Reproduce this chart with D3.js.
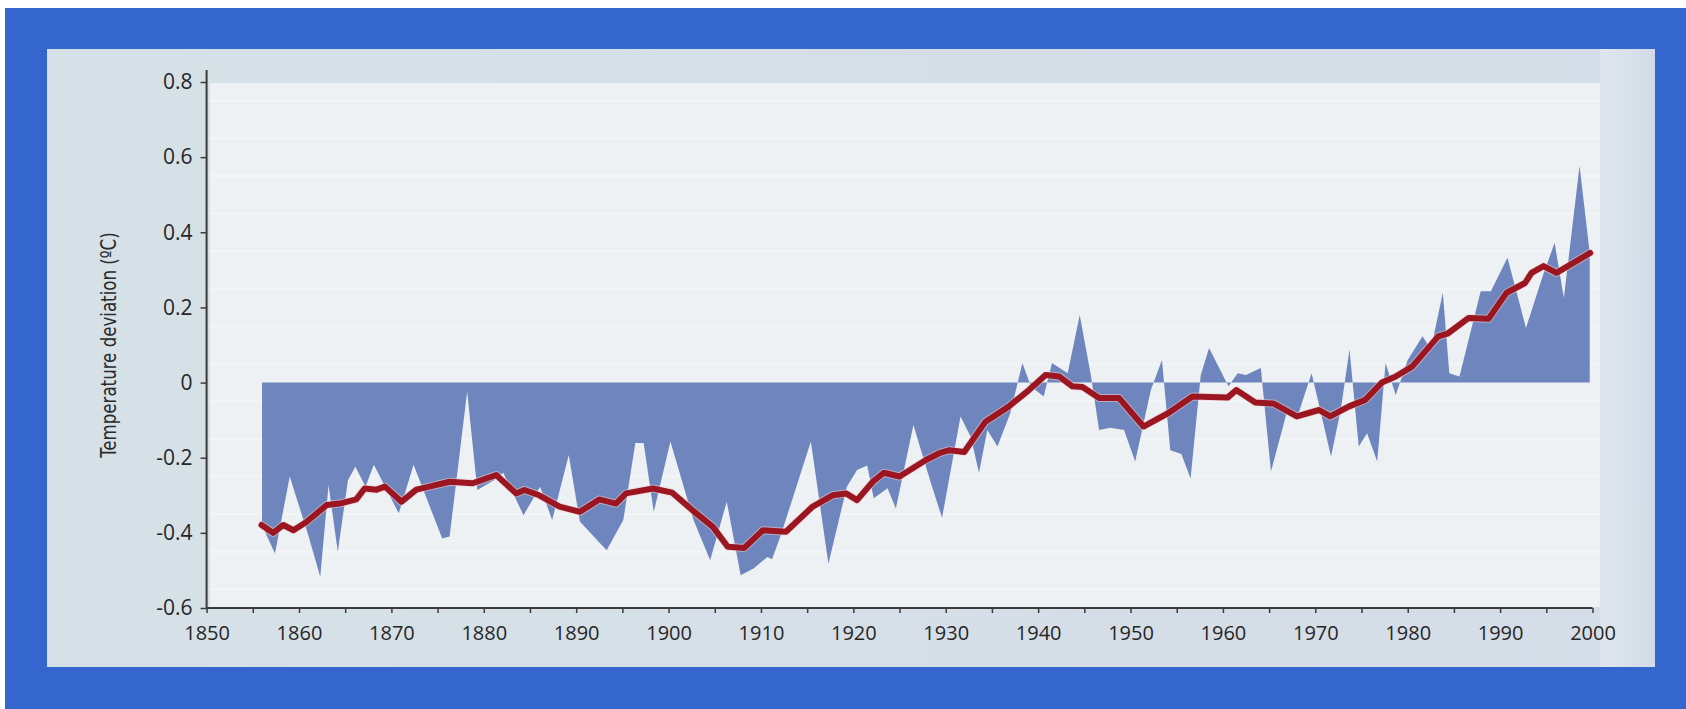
<!DOCTYPE html>
<html>
<head>
<meta charset="utf-8">
<script src="https://cdn.jsdelivr.net/npm/d3@7/dist/d3.min.js"></script>
<style>
  html, body { margin: 0; padding: 0; background: #ffffff; }
  svg { display: block; }
</style>
</head>
<body>
<svg id="chart" width="1686" height="709"></svg>
<script>
// ---- data ----
const annualYears = [1856.0,1857.4,1859.0,1861.0,1862.3,1863.2,1864.2,1865.3,1866.1,1867.2,1868.1,1870.8,1872.4,1875.5,1876.3,1878.2,1879.3,1881.1,1882.1,1884.3,1886.1,1887.4,1889.2,1890.4,1891.9,1893.3,1895.1,1896.4,1897.3,1898.4,1900.2,1902.7,1904.5,1906.3,1907.8,1909.2,1910.7,1911.2,1912.1,1915.4,1917.3,1919.3,1920.4,1921.5,1922.2,1923.7,1924.6,1926.5,1928.4,1929.6,1931.6,1932.7,1933.6,1934.5,1935.6,1937.0,1938.3,1939.2,1940.6,1941.5,1943.2,1944.5,1945.7,1946.6,1947.8,1949.3,1950.5,1952.2,1953.4,1954.3,1955.5,1956.5,1957.6,1958.5,1960.6,1961.6,1962.5,1964.1,1965.2,1966.9,1968.2,1969.6,1971.7,1972.75,1973.7,1974.7,1975.6,1976.7,1977.6,1978.7,1980.0,1981.6,1982.5,1983.8,1984.5,1985.6,1987.9,1989.0,1990.8,1992.8,1994.6,1995.9,1996.9,1998.6,1999.7];
const annualValues = [-0.38,-0.455,-0.25,-0.406,-0.517,-0.273,-0.45,-0.26,-0.224,-0.277,-0.219,-0.348,-0.219,-0.415,-0.41,-0.024,-0.286,-0.26,-0.24,-0.353,-0.277,-0.366,-0.193,-0.37,-0.41,-0.446,-0.366,-0.161,-0.161,-0.344,-0.157,-0.366,-0.473,-0.317,-0.513,-0.495,-0.464,-0.47,-0.41,-0.157,-0.482,-0.277,-0.233,-0.221,-0.308,-0.281,-0.335,-0.113,-0.268,-0.36,-0.09,-0.144,-0.24,-0.126,-0.17,-0.08,0.052,-0.01,-0.037,0.052,0.025,0.18,0.02,-0.126,-0.12,-0.126,-0.21,-0.02,0.06,-0.18,-0.19,-0.255,0.02,0.092,-0.01,0.025,0.02,0.039,-0.237,-0.08,-0.08,0.025,-0.197,-0.073,0.088,-0.17,-0.135,-0.21,0.052,-0.033,0.06,0.123,0.088,0.239,0.025,0.016,0.243,0.243,0.332,0.145,0.283,0.372,0.225,0.577,0.345];

const smoothYears = [1855.95,1857.2,1858.3,1859.4,1860.8,1863.0,1864.4,1866.2,1867.1,1868.4,1869.3,1871.1,1872.7,1874.1,1876.3,1878.8,1881.35,1883.5,1884.4,1886.0,1888.2,1890.4,1892.5,1894.3,1895.4,1898.3,1900.4,1902.6,1904.8,1906.4,1908.2,1910.2,1912.7,1915.6,1917.75,1919.2,1920.4,1922.1,1923.3,1925.0,1927.85,1929.3,1930.4,1932.0,1934.3,1936.8,1939.0,1940.8,1942.3,1943.7,1944.8,1946.6,1948.75,1951.4,1954.1,1956.7,1960.5,1961.45,1963.5,1965.5,1968.0,1970.4,1971.6,1973.6,1975.4,1977.2,1978.7,1980.5,1983.3,1984.3,1986.6,1988.75,1990.7,1992.7,1993.4,1994.7,1996.1,1999.75];
const smoothValues = [-0.379,-0.40,-0.379,-0.393,-0.371,-0.326,-0.322,-0.311,-0.282,-0.285,-0.277,-0.317,-0.285,-0.277,-0.264,-0.268,-0.246,-0.295,-0.286,-0.30,-0.33,-0.344,-0.311,-0.322,-0.295,-0.282,-0.293,-0.34,-0.384,-0.437,-0.44,-0.393,-0.397,-0.33,-0.30,-0.295,-0.313,-0.264,-0.24,-0.25,-0.206,-0.188,-0.18,-0.185,-0.104,-0.064,-0.02,0.02,0.016,-0.01,-0.012,-0.041,-0.041,-0.117,-0.081,-0.037,-0.04,-0.02,-0.053,-0.056,-0.09,-0.073,-0.09,-0.064,-0.046,0.0,0.016,0.043,0.123,0.13,0.172,0.17,0.239,0.265,0.292,0.31,0.292,0.345];

const yTickValues = [-0.6,-0.4,-0.2,0,0.2,0.4,0.6,0.8];
const yTickLabels = ["-0.6","-0.4","-0.2","0","0.2","0.4","0.6","0.8"];
const xTickValues = [1850,1860,1870,1880,1890,1900,1910,1920,1930,1940,1950,1960,1970,1980,1990,2000];
const xTickLabels = ["1850","1860","1870","1880","1890","1900","1910","1920","1930","1940","1950","1960","1970","1980","1990","2000"];
const xMinorTicks = [1855,1865,1875,1885,1895,1905,1915,1925,1935,1945,1955,1965,1975,1985,1995];
const yTitle = "Temperature deviation (ºC)";

// ---- layout ----
const svg = d3.select("#chart");
const W = 1686, H = 709;

const x = d3.scaleLinear().domain([1850, 2000]).range([206.6, 1592.5]);
const y = d3.scaleLinear().domain([-0.6, 0.8]).range([608, 82]);

// frame
svg.append("rect").attr("x", 0).attr("y", 0).attr("width", W).attr("height", H).attr("fill", "#ffffff");
svg.append("rect").attr("x", 5).attr("y", 8).attr("width", W - 5).attr("height", H - 8).attr("fill", "#3466cd");

// panel
const defs = svg.append("defs");
const pg = defs.append("linearGradient").attr("id", "panelGrad").attr("x1", 0).attr("x2", 1).attr("y1", 0).attr("y2", 0);
pg.append("stop").attr("offset", 0).attr("stop-color", "#d6e1e7");
pg.append("stop").attr("offset", 1).attr("stop-color", "#d5dde8");
svg.append("rect").attr("x", 47).attr("y", 49).attr("width", 1608).attr("height", 618).attr("fill", "url(#panelGrad)");

// right darker band
const rb = defs.append("linearGradient").attr("id", "bandGrad").attr("x1", 0).attr("x2", 1).attr("y1", 0).attr("y2", 0);
rb.append("stop").attr("offset", 0).attr("stop-color", "#dfe6ee");
rb.append("stop").attr("offset", 1).attr("stop-color", "#d2dbe7");
svg.append("rect").attr("x", 1600).attr("y", 49).attr("width", 55).attr("height", 618).attr("fill", "url(#bandGrad)");

// plot background
svg.append("rect").attr("x", 210).attr("y", 83).attr("width", 1390).attr("height", 524).attr("fill", "#edf1f4");

// faint stripes
const stripeVals = d3.range(-0.55, 0.8, 0.1);
svg.append("g").selectAll("line").data(stripeVals).join("line")
  .attr("x1", 210).attr("x2", 1600)
  .attr("y1", d => y(d)).attr("y2", d => y(d))
  .attr("stroke", "#f5f8fa").attr("stroke-width", 2).attr("opacity", 0.8);

// area
const areaData = annualYears.map((yr, i) => [yr, annualValues[i]]);
const area = d3.area().x(d => x(d[0])).y0(y(0)).y1(d => y(d[1]));
svg.append("path").datum(areaData).attr("d", area).attr("fill", "#6e86bd");

// smoothed line
const lineData = smoothYears.map((yr, i) => [yr, smoothValues[i]]);
const line = d3.line().x(d => x(d[0])).y(d => y(d[1]));
svg.append("path").datum(lineData).attr("d", line)
  .attr("fill", "none").attr("stroke", "#ecd0d3").attr("stroke-width", 8)
  .attr("stroke-linejoin", "round").attr("stroke-linecap", "round").attr("opacity", 0.55);
svg.append("path").datum(lineData).attr("d", line)
  .attr("fill", "none").attr("stroke", "#9b1620").attr("stroke-width", 6)
  .attr("stroke-linejoin", "round").attr("stroke-linecap", "round");

// axes
const axisColor = "#3a3a3a";
const tickFont = "'Open Sans', 'DejaVu Sans', sans-serif";

const yAxis = d3.axisLeft(y).tickValues(yTickValues)
  .tickFormat((d, i) => yTickLabels[i]).tickSize(6).tickPadding(8);
const gy = svg.append("g").attr("transform", `translate(${x(1850)},0)`).call(yAxis);
gy.select(".domain").remove();
gy.selectAll(".tick line").attr("stroke", axisColor).attr("stroke-width", 1.5);
gy.selectAll(".tick text").attr("fill", "#262626").style("font-size", "21px").style("font-family", tickFont);
svg.append("line").attr("x1", x(1850)).attr("x2", x(1850)).attr("y1", 70).attr("y2", y(-0.6))
  .attr("stroke", axisColor).attr("stroke-width", 2);

const xAxis = d3.axisBottom(x).tickValues(xTickValues)
  .tickFormat((d, i) => xTickLabels[i]).tickSize(5).tickPadding(13);
const gx = svg.append("g").attr("transform", `translate(0,${y(-0.6)})`).call(xAxis);
gx.select(".domain").remove();
gx.selectAll(".tick line").attr("stroke", axisColor).attr("stroke-width", 1.5);
gx.selectAll(".tick text").attr("fill", "#262626").style("font-size", "20px").style("font-family", tickFont);

const xMinor = d3.axisBottom(x).tickValues(xMinorTicks).tickFormat("").tickSize(5);
const gxm = svg.append("g").attr("transform", `translate(0,${y(-0.6)})`).call(xMinor);
gxm.select(".domain").remove();
gxm.selectAll(".tick line").attr("stroke", axisColor).attr("stroke-width", 1.5);

svg.append("line").attr("x1", x(1850)).attr("x2", x(2000)).attr("y1", y(-0.6)).attr("y2", y(-0.6))
  .attr("stroke", axisColor).attr("stroke-width", 2);

// y title
svg.append("text")
  .attr("transform", `translate(116,${(y(0.4) + y(-0.2)) / 2}) rotate(-90)`)
  .attr("text-anchor", "middle")
  .style("font-family", "'Liberation Sans Narrow', 'DejaVu Sans Condensed', 'Roboto', sans-serif")
  .style("font-size", "22px")
  .attr("fill", "#2a2a2a")
  .attr("textLength", y(-0.2) - y(0.4)).attr("lengthAdjust", "spacingAndGlyphs")
  .text(yTitle);
</script>
</body>
</html>
